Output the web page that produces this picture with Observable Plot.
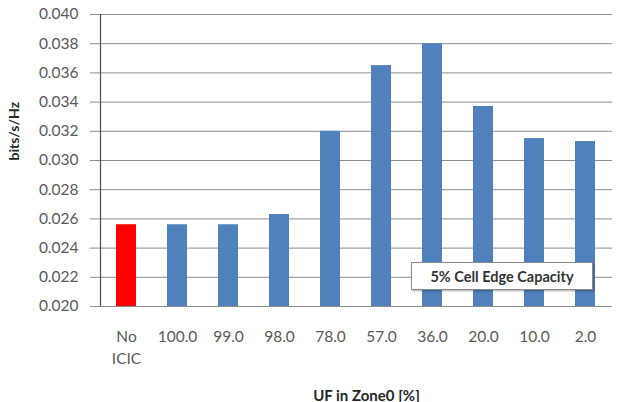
<!DOCTYPE html>
<html>
<head>
<meta charset="utf-8">
<script src="https://cdn.jsdelivr.net/npm/d3@7"></script>
<script src="https://cdn.jsdelivr.net/npm/@observablehq/plot@0.6"></script>
<style>
  html, body { margin: 0; padding: 0; background: #fff; }
  #wrap { position: relative; width: 644px; height: 402px; overflow: hidden; }
  #note {
    position: absolute; left: 411px; top: 262px;
    border: 1px solid #8a8a8a; background: #fff;
    box-shadow: 1px 1px 2px rgba(0,0,0,0.35);
    font: bold 14.5px Lato, sans-serif; color: #333;
    display: flex; align-items: center; justify-content: center;
    box-sizing: border-box; width: 182px; height: 28px;
  }
</style>
</head>
<body>
<div id="wrap"></div>
<script>
// ---- data ----
const categories = ["No\nICIC", "100.0", "99.0", "98.0", "78.0", "57.0", "36.0", "20.0", "10.0", "2.0"];
const values = [0.0256, 0.0256, 0.0256, 0.0263, 0.0320, 0.0365, 0.0380, 0.0337, 0.0315, 0.0313];
const barColors = ["#ff0000", "#4f81bd", "#4f81bd", "#4f81bd", "#4f81bd", "#4f81bd", "#4f81bd", "#4f81bd", "#4f81bd", "#4f81bd"];
const yTicks = [0.020, 0.022, 0.024, 0.026, 0.028, 0.030, 0.032, 0.034, 0.036, 0.038, 0.040];
const yTitle = "bits/s/Hz";
const xTitle = "UF in Zone0 [%]";
const noteText = "5% Cell Edge Capacity";

const yMin = yTicks[0], yMax = yTicks[yTicks.length - 1];
const data = categories.map((c, i) => ({cat: c, value: values[i], color: barColors[i]}));

// vertical value-axis line at the left edge of the plot area, using the y scale
function yAxisLine(index, scales, values, dimensions) {
  const x = dimensions.marginLeft + 0.5;
  return d3.create("svg:line")
    .attr("x1", x).attr("x2", x)
    .attr("y1", scales.y(yMin)).attr("y2", scales.y(yMax))
    .attr("stroke", "#4d4d4d").attr("stroke-width", 1.2)
    .node();
}

const chart = Plot.plot({
  width: 644,
  height: 402,
  marginLeft: 100,
  marginRight: 32,
  marginTop: 14,
  marginBottom: 96,
  style: {fontFamily: "Lato, sans-serif", background: "#fff"},
  x: {type: "band", domain: categories, paddingInner: 0.6, paddingOuter: 0.3},
  y: {domain: [yMin, yMax]},
  marks: [
    Plot.gridY(yTicks, {stroke: "#8c8c8c", strokeOpacity: 1, strokeWidth: 1}),
    Plot.barY(data, {x: "cat", y1: () => yMin, y2: "value", fill: "color"}),
    Plot.axisY(yTicks, {
      tickSize: 10, tickPadding: 12, tickFormat: d3.format(".3f"),
      stroke: "#8c8c8c", fill: "#595959", fontSize: 15.5, label: null
    }),
    Plot.ruleY([yMin], {stroke: "#8c8c8c", strokeWidth: 1}),
    yAxisLine,
    Plot.axisX({
      tickSize: 0, tickPadding: 20, fill: "#595959", fontSize: 15.5,
      lineHeight: 1.4, label: null
    }),
    Plot.text([yTitle], {
      frameAnchor: "left", rotate: -90, dx: -86, dy: 0,
      fontWeight: "bold", fontSize: 14, fill: "#262626"
    }),
    Plot.text([xTitle], {
      frameAnchor: "bottom", lineAnchor: "bottom", dy: 94, dx: 10,
      fontWeight: "bold", fontSize: 15, fill: "#262626"
    })
  ]
});

const wrap = document.getElementById("wrap");
wrap.appendChild(chart);
const note = document.createElement("div");
note.id = "note";
note.textContent = noteText;
wrap.appendChild(note);
</script>
</body>
</html>
